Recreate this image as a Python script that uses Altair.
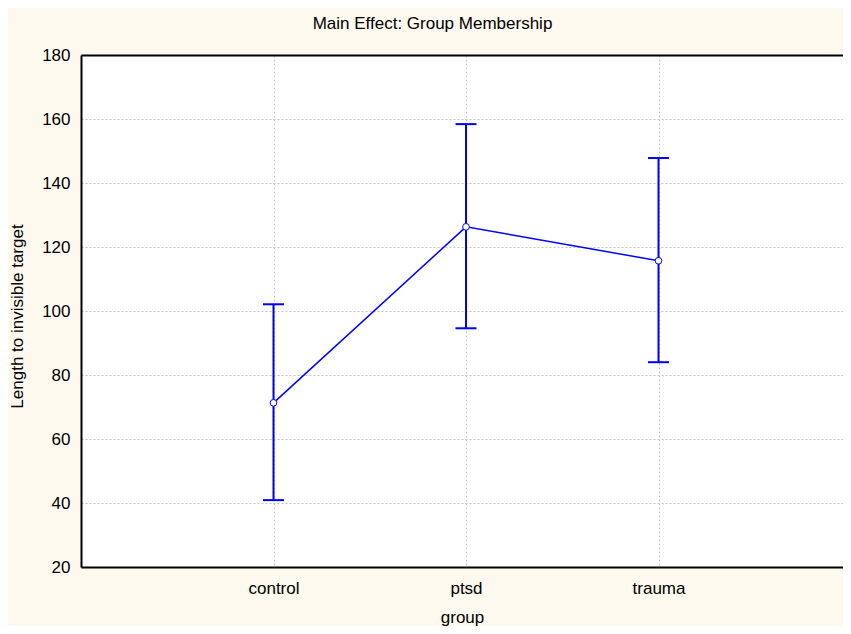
import json
import altair as alt
import pandas as pd

# ---- data ----
groups = ["control", "ptsd", "trauma"]
means = [71.3, 126.3, 115.7]
upper = [102.1, 158.4, 147.8]
lower = [40.9, 94.6, 84.0]
y_ticks = [20, 40, 60, 80, 100, 120, 140, 160, 180]
main_title = "Main Effect: Group Membership"

df = pd.DataFrame({
    "group": groups,
    "idx": list(range(1, len(groups) + 1)),
    "mean": means,
    "lo": lower,
    "hi": upper,
})

BLUE = "#0000FF"
FONT = "Liberation Sans"
GRID = "#c4c4c4"
label_expr = json.dumps([""] + groups) + "[datum.value]"
x_vals = list(range(1, len(groups) + 1))

PLOT_W = 762
PLOT_H = 512
# the reference's plot runs past the right edge of the picture: full span would be 770px
xscale = alt.Scale(domain=[0, (len(groups) + 1) * PLOT_W / 770], nice=False, zero=False)
yscale = alt.Scale(domain=[20, 180], nice=False, zero=False)

base = alt.Chart(df)

x_main = alt.X("idx:Q", scale=xscale, axis=alt.Axis(
    orient="bottom", values=x_vals, labelExpr=label_expr, title="group",
    grid=True, gridColor=GRID, gridDash=[2, 2], gridWidth=1,
    domain=True, domainColor="black", domainWidth=2, ticks=False,
    labelFont=FONT, labelFontSize=17, labelColor="black", labelPadding=26,
    labelBaseline="alphabetic",
    titleFont=FONT, titleFontSize=17, titleFontWeight="normal", titleColor="black",
    titleY=55, titleBaseline="alphabetic"))

y_main = alt.Y("lo:Q", scale=yscale, axis=alt.Axis(
    orient="left", values=y_ticks, title="Length to invisible target",
    grid=True, gridColor=GRID, gridDash=[2, 2], gridWidth=1,
    domain=True, domainColor="black", domainWidth=2, ticks=False,
    labelFont=FONT, labelFontSize=17, labelColor="black", labelPadding=11,
    titleFont=FONT, titleFontSize=17, titleFontWeight="normal", titleColor="black",
    titleAngle=270, titleX=-59, titleY=261, titleAlign="center",
    titleBaseline="alphabetic"))

rules = base.mark_rule(color=BLUE, strokeWidth=2).encode(
    x=x_main, y=y_main, y2="hi:Q")

caps_hi = base.mark_tick(color=BLUE, size=21, thickness=2, orient="horizontal", opacity=1).encode(
    x=alt.X("idx:Q", scale=xscale, axis=alt.Axis(
        orient="top", values=x_vals, labels=False, ticks=False, grid=False,
        domain=True, domainColor="black", domainWidth=2,
        title=main_title, titleFont=FONT, titleFontSize=17, titleFontWeight="normal",
        titleColor="black", titleX=351, titleY=-27, titleAlign="center",
        titleBaseline="alphabetic")),
    y=alt.Y("hi:Q", scale=yscale, axis=None))

caps_lo = base.mark_tick(color=BLUE, size=21, thickness=2, orient="horizontal", opacity=1).encode(
    x=alt.X("idx:Q", scale=xscale, axis=None),
    y=alt.Y("lo:Q", scale=yscale, axis=None))

line = base.mark_line(color=BLUE, strokeWidth=1.5).encode(
    x=alt.X("idx:Q", scale=xscale, axis=None),
    y=alt.Y("mean:Q", scale=yscale, axis=None))

points = base.mark_point(filled=True, fill="white", stroke=BLUE, strokeWidth=1,
                         size=45, opacity=1).encode(
    x=alt.X("idx:Q", scale=xscale, axis=None),
    y=alt.Y("mean:Q", scale=yscale, axis=None))

chart = alt.layer(rules, caps_hi, caps_lo, line, points).resolve_axis(
    x="independent", y="independent"
).properties(
    width=PLOT_W, height=PLOT_H,
    padding={"left": 73, "top": 47, "right": 0, "bottom": 59},
    autosize=alt.AutoSizeParams(type="none"),
    background="#FEF9EE",
).configure_view(fill="white", stroke=None)

chart.save("out.html", embed_options={"renderer": "svg", "actions": False})
